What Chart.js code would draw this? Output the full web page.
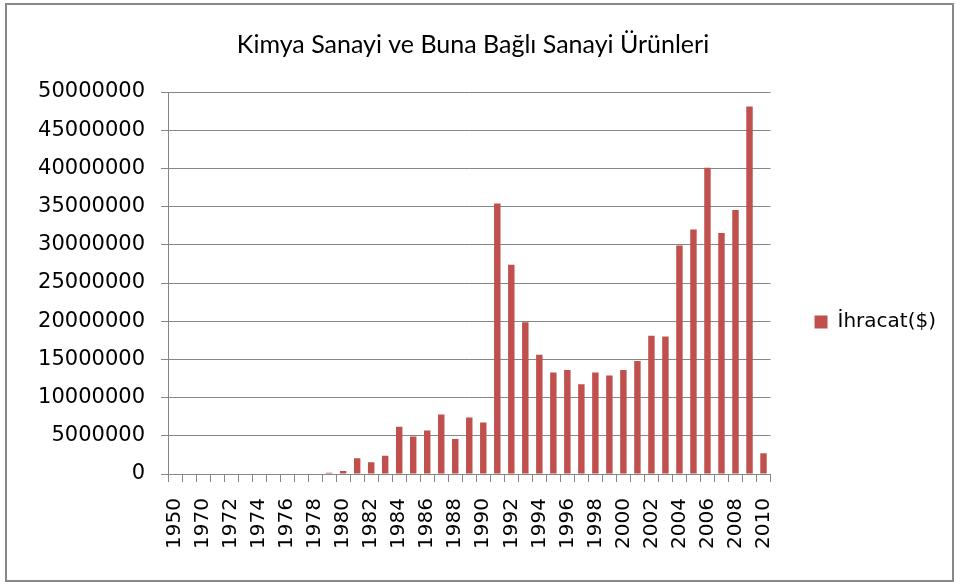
<!DOCTYPE html>
<html>
<head>
<meta charset="utf-8">
<script src="https://cdn.jsdelivr.net/npm/chart.js@4"></script>
<style>
  html, body { margin: 0; padding: 0; background: #fff; }
  #wrap { width: 961px; height: 582px; }
</style>
</head>
<body>
<div id="wrap"><canvas id="chart" width="961" height="582"></canvas></div>
<script>
// ===== DADOS =====
const years = ['1950', '1960',
  '1970', '1971', '1972', '1973', '1974', '1975', '1976', '1977', '1978', '1979',
  '1980', '1981', '1982', '1983', '1984', '1985', '1986', '1987', '1988', '1989',
  '1990', '1991', '1992', '1993', '1994', '1995', '1996', '1997', '1998', '1999',
  '2000', '2001', '2002', '2003', '2004', '2005', '2006', '2007', '2008', '2009',
  '2010'];

const exports = [0, 0,
  0, 0, 0, 0, 0, 0, 0, 0, 0, 170000,
  400000, 2050000, 1530000, 2400000, 6200000, 4900000, 5700000, 7800000, 4570000, 7400000,
  6750000, 35400000, 27400000, 19850000, 15600000, 13300000, 13600000, 11750000, 13300000, 12900000,
  13600000, 14800000, 18100000, 18000000, 29900000, 32000000, 40100000, 31550000, 34550000, 48100000,
  2700000];

const yTicks = [0, 5000000, 10000000, 15000000, 20000000, 25000000,
  30000000, 35000000, 40000000, 45000000, 50000000];

const chartTitle = 'Kimya Sanayi ve Buna Bağlı Sanayi Ürünleri';
const seriesName = 'İhracat($)';

// ===== CONFIGURAÇÃO =====
const gridGray = '#868686';
const barRed = '#C0504D';
const legendShift = 39;

// Moldura cinza em volta do gráfico e ajuste vertical da legenda
const framePlugin = {
  id: 'frame',
  beforeDraw(chart) {
    const ctx = chart.ctx;
    ctx.save();
    ctx.strokeStyle = '#888888';
    ctx.lineWidth = 2;
    ctx.strokeRect(6, 4, 947, 577);
    ctx.restore();
  },
  afterLayout(chart) {
    if (chart.legend) {
      chart.legend.top += legendShift;
      chart.legend.bottom += legendShift;
    }
  }
};

new Chart(document.getElementById('chart'), {
  type: 'bar',
  data: {
    labels: years,
    datasets: [{
      label: seriesName,
      data: exports,
      backgroundColor: barRed,
      borderWidth: 0,
      categoryPercentage: 1,
      barPercentage: 0.46
    }]
  },
  options: {
    responsive: false,
    animation: false,
    layout: { padding: { left: 0, right: 15, top: 0, bottom: 0 } },
    plugins: {
      title: {
        display: true,
        text: chartTitle,
        color: '#000',
        font: { family: 'Lato', size: 25, weight: 'normal' },
        padding: { top: 30, bottom: 32 }
      },
      legend: {
        position: 'right',
        fullSize: false,
        labels: {
          color: '#000',
          font: { family: 'DejaVu Sans', size: 20 },
          boxWidth: 13,
          boxHeight: 13,
          padding: 44
        }
      },
      tooltip: { enabled: false }
    },
    scales: {
      x: {
        grid: {
          display: true,
          drawOnChartArea: false,
          drawTicks: true,
          tickLength: 8,
          color: gridGray,
          offset: true
        },
        border: { color: gridGray, width: 1 },
        ticks: {
          autoSkip: false,
          maxRotation: 90,
          minRotation: 90,
          padding: 16,
          color: '#000',
          font: { family: 'DejaVu Sans', size: 20 },
          callback: function(value, index) {
            return index % 2 === 0 ? years[index] : '';
          }
        },
        afterFit: function(scale) { scale.height = 108; }
      },
      y: {
        min: 0,
        max: 50000000,
        afterBuildTicks: function(scale) {
          scale.ticks = yTicks.map(v => ({ value: v }));
        },
        grid: {
          color: gridGray,
          tickLength: 7,
          lineWidth: 1
        },
        border: { color: gridGray, width: 1 },
        ticks: {
          padding: 16,
          color: '#000',
          font: { family: 'DejaVu Sans', size: 21 },
          callback: function(value) { return String(value); }
        },
        afterFit: function(scale) { scale.width = 168; }
      }
    }
  },
  plugins: [framePlugin]
});
</script>
</body>
</html>
